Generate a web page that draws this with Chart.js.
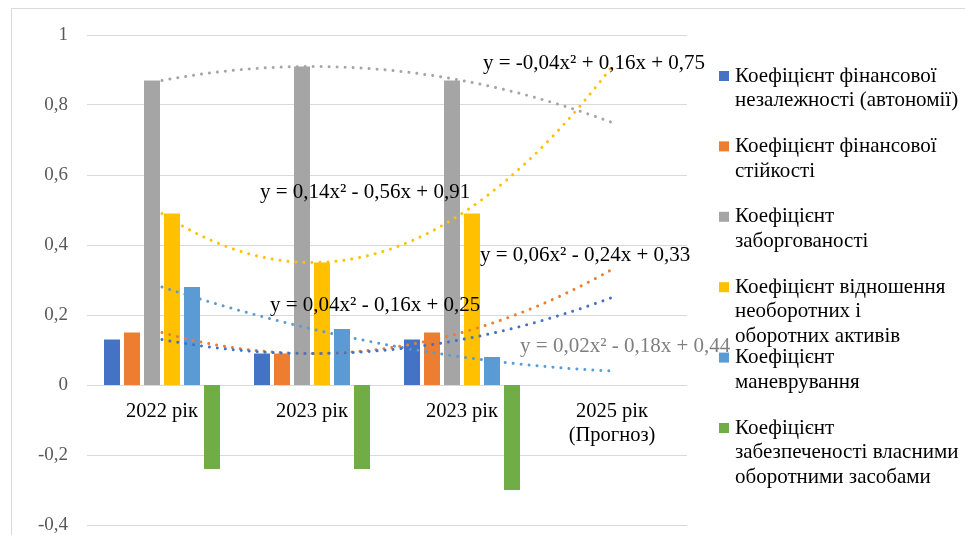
<!DOCTYPE html>
<html lang="uk">
<head>
<meta charset="utf-8">
<title>Коефіцієнти фінансової стійкості</title>
<script src="https://cdn.jsdelivr.net/npm/chart.js@4/dist/chart.umd.min.js"></script>
<style>
  html, body { margin: 0; padding: 0; background: #ffffff; }
  #wrap { width: 965px; height: 535px; }
</style>
</head>
<body>
<div id="wrap"><canvas id="chart" width="965" height="535"></canvas></div>
<script>
// Categories (years); the last one is the forecast year without bars
const categories = [['2022 рік'], ['2023 рік'], ['2023 рік'], ['2025 рік', '(Прогноз)']];

// Coefficient values per year
const autonomy      = [0.13, 0.09, 0.13, null];
const stability     = [0.15, 0.09, 0.15, null];
const indebtedness  = [0.87, 0.91, 0.87, null];
const assetRatio    = [0.49, 0.35, 0.49, null];
const maneuver      = [0.28, 0.16, 0.08, null];
const ownWorkingCap = [-0.24, -0.24, -0.30, null];

// Legend captions (wrapped lines)
const seriesNames = [
  ['Коефіцієнт фінансової', 'незалежності (автономії)'],
  ['Коефіцієнт фінансової', 'стійкості'],
  ['Коефіцієнт', 'заборгованості'],
  ['Коефіцієнт відношення', 'необоротних і', 'оборотних активів'],
  ['Коефіцієнт', 'маневрування'],
  ['Коефіцієнт', 'забезпеченості власними', 'оборотними засобами']
];

// Polynomial (2nd order) trends [a, b, c]: y = a*x² + b*x + c, x = period number 1..4
const trendAutonomy     = [0.04, -0.16, 0.25];
const trendStability    = [0.06, -0.24, 0.33];
const trendIndebtedness = [-0.04, 0.16, 0.75];
const trendAssetRatio   = [0.14, -0.56, 0.91];
const trendManeuver     = [0.02, -0.18, 0.44];

// Trend equation captions
const eqAutonomy     = 'y = 0,04x² - 0,16x + 0,25';
const eqStability    = 'y = 0,06x² - 0,24x + 0,33';
const eqIndebtedness = 'y = -0,04x² + 0,16x + 0,75';
const eqAssetRatio   = 'y = 0,14x² - 0,56x + 0,91';
const eqManeuver     = 'y = 0,02x² - 0,18x + 0,44';

// Y axis range and step
const yTicks = { min: -0.4, max: 1, step: 0.2 };

const colors = ['#4472C4', '#ED7D31', '#A5A5A5', '#FFC000', '#5B9BD5', '#70AD47'];
const SERIF = "'Liberation Serif', 'Times New Roman', serif";

// Trend curve over periods 1..4, placed on the category axis (period 1 = category index 0)
function trendCurve(coef) {
  const pts = [];
  for (let i = 0; i <= 60; i++) {
    const p = 1 + i * 0.05;
    pts.push({ x: p - 1, y: coef[0] * p * p + coef[1] * p + coef[2] });
  }
  return pts;
}

function barSet(label, data, color) {
  return {
    type: 'bar', label: label, data: data, backgroundColor: color,
    order: 2, categoryPercentage: 0.8, barPercentage: 0.8
  };
}

function trendSet(coef, color) {
  return {
    type: 'line', data: trendCurve(coef), parsing: false, borderColor: color,
    borderWidth: 3, borderDash: [0.01, 7.99], borderCapStyle: 'round',
    pointRadius: 0, tension: 0, fill: false, order: 0
  };
}

// Trend equation labels, anchored at (period number, value)
const eqLabels = [
  { text: eqIndebtedness, p: 3.14,  v: 0.92,  color: '#000000' },
  { text: eqAssetRatio,   p: 1.653, v: 0.551, color: '#000000' },
  { text: eqStability,    p: 3.12,  v: 0.371, color: '#000000' },
  { text: eqAutonomy,     p: 1.72,  v: 0.226, color: '#000000' },
  { text: eqManeuver,     p: 3.387, v: 0.109, color: '#7f7f7f' }
];

const decorPlugin = {
  id: 'decor',
  beforeDraw(chart) {
    const ctx = chart.ctx;
    ctx.save();
    ctx.fillStyle = '#ffffff';
    ctx.fillRect(0, 0, chart.width, chart.height);
    // outer frame (top and left edges)
    ctx.strokeStyle = '#d9d9d9';
    ctx.lineWidth = 1;
    ctx.beginPath();
    ctx.moveTo(11.5, chart.height);
    ctx.lineTo(11.5, 8.5);
    ctx.lineTo(chart.width, 8.5);
    ctx.stroke();
    ctx.restore();
  },
  afterDatasetsDraw(chart) {
    const ctx = chart.ctx;
    const xs = chart.scales.x, ys = chart.scales.y;
    ctx.save();
    ctx.textBaseline = 'middle';
    // category labels under the zero line
    ctx.font = '20.5px ' + SERIF;
    ctx.fillStyle = '#000000';
    ctx.textAlign = 'center';
    const y0 = ys.getPixelForValue(0);
    categories.forEach((lines, i) => {
      const cx = xs.getPixelForValue(i);
      lines.forEach((t, k) => ctx.fillText(t, cx, y0 + 27 + k * 24));
    });
    // trend equations
    ctx.font = '21px ' + SERIF;
    ctx.textAlign = 'left';
    eqLabels.forEach(l => {
      ctx.fillStyle = l.color;
      ctx.fillText(l.text, xs.getPixelForValue(l.p - 1), ys.getPixelForValue(l.v));
    });
    // legend
    let ly = 76;
    seriesNames.forEach((lines, i) => {
      ctx.fillStyle = colors[i];
      ctx.fillRect(719, ly - 5, 10, 10);
      ctx.fillStyle = '#000000';
      lines.forEach((t, k) => ctx.fillText(t, 735, ly + k * 24.6));
      ly += 70.4;
    });
    ctx.restore();
  }
};

const fmt = v => Number(v.toFixed(1)).toString().replace('.', ',');

new Chart(document.getElementById('chart'), {
  type: 'bar',
  data: {
    labels: categories,
    datasets: [
      barSet(seriesNames[0].join(' '), autonomy, colors[0]),
      barSet(seriesNames[1].join(' '), stability, colors[1]),
      barSet(seriesNames[2].join(' '), indebtedness, colors[2]),
      barSet(seriesNames[3].join(' '), assetRatio, colors[3]),
      barSet(seriesNames[4].join(' '), maneuver, colors[4]),
      barSet(seriesNames[5].join(' '), ownWorkingCap, colors[5]),
      trendSet(trendAutonomy, colors[0]),
      trendSet(trendStability, colors[1]),
      trendSet(trendIndebtedness, colors[2]),
      trendSet(trendAssetRatio, colors[3]),
      trendSet(trendManeuver, colors[4])
    ]
  },
  options: {
    responsive: false,
    animation: false,
    events: [],
    layout: { padding: { left: 0, top: 35, right: 278, bottom: 10 } },
    plugins: { legend: { display: false }, tooltip: { enabled: false } },
    scales: {
      x: {
        type: 'category', display: false, offset: true,
        grid: { display: false }
      },
      y: {
        min: yTicks.min, max: yTicks.max,
        afterFit(scale) { scale.width = 87; scale.paddingTop = 0; scale.paddingBottom = 0; },
        border: { display: false },
        grid: { color: '#d9d9d9', lineWidth: 1, drawTicks: false },
        ticks: {
          stepSize: yTicks.step, padding: 19, color: '#595959',
          font: { family: SERIF, size: 19 },
          callback: fmt
        }
      }
    }
  },
  plugins: [decorPlugin]
});
</script>
</body>
</html>
